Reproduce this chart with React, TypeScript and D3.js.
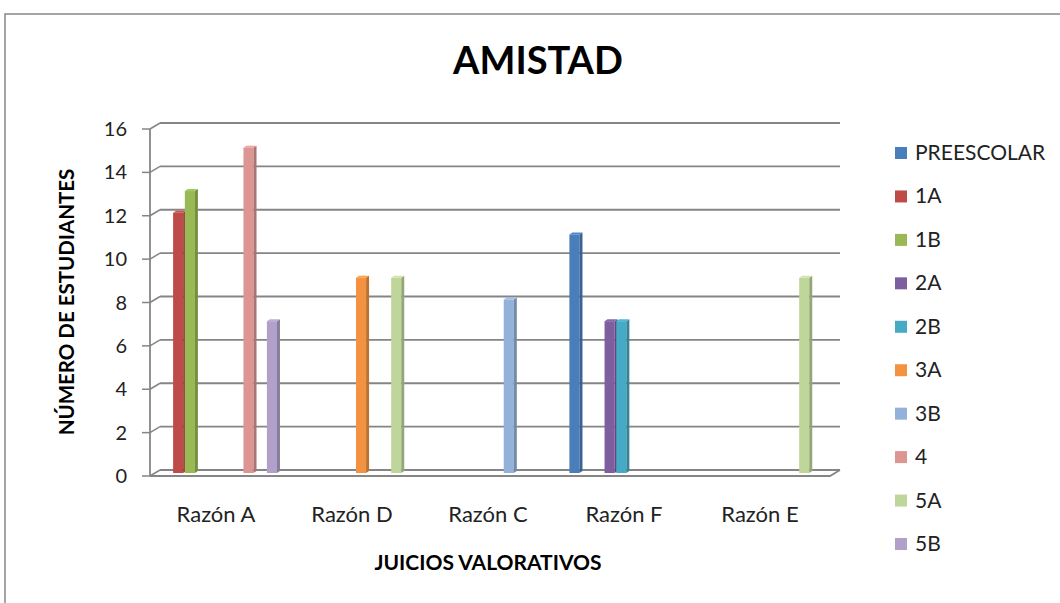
import React from "react";
import * as d3 from "d3";

const title = "AMISTAD";
const categories = ["Razón A", "Razón D", "Razón C", "Razón F", "Razón E"];
const seriesNames = ["PREESCOLAR", "1A", "1B", "2A", "2B", "3A", "3B", "4", "5A", "5B"];
const preescolar = [0, 0, 0, 11, 0];
const s1A = [12, 0, 0, 0, 0];
const s1B = [13, 0, 0, 0, 0];
const s2A = [0, 0, 0, 7, 0];
const s2B = [0, 0, 0, 7, 0];
const s3A = [0, 9, 0, 0, 0];
const s3B = [0, 0, 8, 0, 0];
const s4 = [15, 0, 0, 0, 0];
const s5A = [0, 9, 0, 0, 9];
const s5B = [7, 0, 0, 0, 0];
const seriesValues = [preescolar, s1A, s1B, s2A, s2B, s3A, s3B, s4, s5A, s5B];
const yTicks = [0, 2, 4, 6, 8, 10, 12, 14, 16];
const colors = ["#4A7EBB", "#BE4B48", "#98B954", "#7D5FA0", "#46AAC5", "#F39240", "#93B1D9", "#DC9593", "#BFD69A", "#B0A0CA"];

const FONT = "Lato, 'Open Sans', sans-serif";

export default function App() {
  const W = 1060, H = 603;
  // front plane
  const fx0 = 150, fx1 = 830, fy0 = 476, fy1 = 129;
  const DX = 10, DY = -6; // wall depth
  const yFront = d3.scaleLinear().domain([0, 16]).range([fy0, fy1]);
  const yBack = (v: number) => yFront(v) + DY;
  const yMid = (v: number) => yFront(v) + DY / 2;
  const x0 = d3.scaleBand<string>().domain(categories).range([fx0 + 2, fx1 + 2]).paddingInner(0).paddingOuter(0);
  const x1 = d3.scaleBand<string>().domain(seriesNames).range([0, x0.bandwidth()]).paddingInner(0).paddingOuter(0.8);
  const faceW = x1.bandwidth() * 0.86;
  const sdx = 3, sdy = -2;
  const grid = "#858585";

  const darken = (c: string, k: number) => d3.color(c)!.darker(k).toString();
  const lighten = (c: string, k: number) => d3.color(c)!.brighter(k).toString();

  const bars: JSX.Element[] = [];
  seriesNames.forEach((s, si) => {
    seriesValues[si].forEach((v, ci) => {
      if (!v) return;
      const x = (x0(categories[ci]) as number) + (x1(s) as number);
      const yt = yMid(v);
      const yb = yMid(0);
      const c = colors[si];
      bars.push(
        <g key={s + ci}>
          <rect x={x} y={yt} width={faceW} height={yb - yt} fill={c} />
          <polygon
            points={`${x + faceW},${yt} ${x + faceW + sdx},${yt + sdy} ${x + faceW + sdx},${yb + sdy} ${x + faceW},${yb}`}
            fill={darken(c, 0.7)}
          />
          <polygon
            points={`${x},${yt} ${x + sdx},${yt + sdy} ${x + faceW + sdx},${yt + sdy} ${x + faceW},${yt}`}
            fill={lighten(c, 0.2)}
          />
        </g>
      );
    });
  });

  const legendY = d3.scaleLinear().domain([0, 9]).range([153, 544]);

  return (
    <svg width={W} height={H} style={{ position: "absolute", left: 0, top: 0, background: "#fff" }}>
      <rect x={5} y={14} width={1100} height={700} fill="#fff" stroke="#888" strokeWidth={1.5} />
      <text x={538} y={74} textAnchor="middle" fontFamily={FONT} fontWeight="bold" fontSize={38} fill="#000">
        {title}
      </text>
      {/* back wall gridlines */}
      {yTicks.map((t) => (
        <g key={t}>
          <line x1={fx0 + DX} x2={fx1 + DX} y1={yBack(t)} y2={yBack(t)} stroke={grid} strokeWidth={1.8} />
          <line x1={fx0} x2={fx0 + DX} y1={yFront(t)} y2={yBack(t)} stroke={grid} strokeWidth={1.5} />
          <line x1={fx0 - 8} x2={fx0} y1={yFront(t)} y2={yFront(t)} stroke={grid} strokeWidth={1.5} />
          <text x={127} y={yFront(t) + 7} textAnchor="end" fontFamily={FONT} fontSize={20} fill="#222">
            {t}
          </text>
        </g>
      ))}
      <line x1={fx0} x2={fx0} y1={yFront(16)} y2={yFront(0)} stroke={grid} strokeWidth={1.8} />
      {/* floor */}
      <polyline
        points={`${fx0},${fy0} ${fx1},${fy0} ${fx1 + DX},${fy0 + DY}`}
        fill="none"
        stroke={grid}
        strokeWidth={1.8}
      />
      {bars}
      {categories.map((c) => (
        <text key={c} x={(x0(c) as number) + x0.bandwidth() / 2 - 4} y={522} textAnchor="middle" fontFamily={FONT} fontSize={22} fill="#222">
          {c}
        </text>
      ))}
      <text x={488} y={570} textAnchor="middle" fontFamily={FONT} fontWeight="bold" fontSize={21} fill="#000">
        JUICIOS VALORATIVOS
      </text>
      <text
        transform="translate(74,302) rotate(-90)"
        textAnchor="middle"
        fontFamily={FONT}
        fontWeight="bold"
        fontSize={20.5}
        fill="#000"
      >
        NÚMERO DE ESTUDIANTES
      </text>
      {seriesNames.map((s, i) => (
        <g key={s}>
          <rect x={895} y={legendY(i) - 6} width={12} height={12} fill={colors[i]} />
          <text x={915} y={legendY(i) + 7} fontFamily={FONT} fontSize={21} fill="#222">
            {s}
          </text>
        </g>
      ))}
    </svg>
  );
}
